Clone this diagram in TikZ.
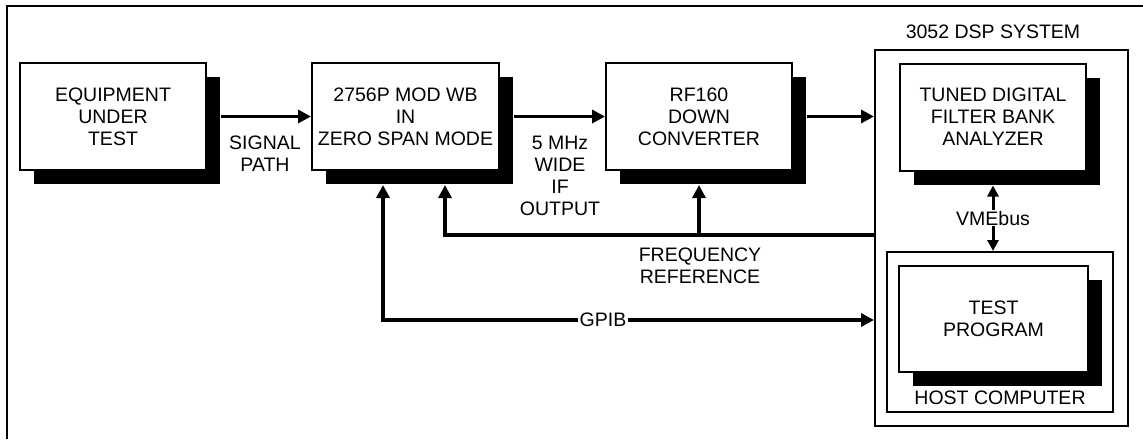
\documentclass[tikz,border=0pt]{standalone}
\usepackage{fontspec}
\setmainfont{Liberation Sans}
\usetikzlibrary{arrows.meta,shadows}

\begin{document}
\begin{tikzpicture}[x=1pt, y=-1pt,
  every node/.style={font=\fontsize{19.5}{22}\selectfont, align=center},
  unit/.style={draw, line width=2pt, fill=white, minimum width=186pt, minimum height=107pt,
    drop shadow={shadow xshift=14pt, shadow yshift=-14pt, fill=black, opacity=1}},
  frame/.style={draw, line width=2pt, inner sep=0pt},
  bus/.style={line width=3.5pt, -{Triangle[length=13pt,width=13pt]}}]
\useasboundingbox (0,0) rectangle (1143,439);
\draw[line width=1.5pt] (7,439) -- (7,6) -- (1143,6);

% signal chain
\node[unit] (eut) at (113,116.5) {EQUIPMENT\\UNDER\\TEST};
\node[unit, minimum width=187pt] (sa) at (405.5,116.5) {2756P MOD WB\\IN\\ZERO SPAN MODE};
\node[unit] (dc) at (699,116.5) {RF160\\DOWN\\CONVERTER};

% DSP system
\node[frame, minimum width=253pt, minimum height=376pt] (dsp) at (1001.5,238) {};
\node (dsptitle) at (993,32) {3052 DSP SYSTEM};
\node[unit] (tdfb) at (993,117) {TUNED DIGITAL\\FILTER BANK\\ANALYZER};
\node[frame, minimum width=226pt, minimum height=160pt] (host) at (1000,332) {};
\node[unit, minimum width=189pt, minimum height=106pt] (prog) at (993.5,319) {TEST\\PROGRAM};
\node (hostlabel) at (1000,398) {HOST COMPUTER};

% links
\draw[bus] ([xshift=14pt]eut.east) -- (sa.west);
\node (sig) at (265,154) {SIGNAL\\PATH};
\draw[bus] ([xshift=14pt]sa.east) -- (dc.west);
\node (ifout) at (560,176) {5 MHz\\WIDE\\IF\\OUTPUT};
\draw[bus] ([xshift=14pt]dc.east) -- (dc.east -| dsp.west);

\coordinate (fr) at (875,235);
\draw[bus] (fr) -| ([xshift=39.5pt,yshift=-14pt]sa.south);
\draw[bus] (fr -| dc.south) -- ([yshift=-14pt]dc.south);
\node (freq) at (700,266) {FREQUENCY\\REFERENCE};

\draw[bus, {Triangle[length=13pt,width=13pt]}-{Triangle[length=13pt,width=13pt]}]
  ([xshift=-22.5pt,yshift=-14pt]sa.south) |- (dsp.west |- 0,320)
  node[pos=0.724, fill=white, inner sep=2pt] (gpib) {GPIB};

\draw[line width=3pt, {Triangle[length=11pt,width=11pt]}-{Triangle[length=11pt,width=11pt]}]
  ([yshift=-14pt]tdfb.south) -- (tdfb.south |- host.north)
  node[midway, fill=white, inner sep=1pt] (vme) {VMEbus};
\end{tikzpicture}
\end{document}
